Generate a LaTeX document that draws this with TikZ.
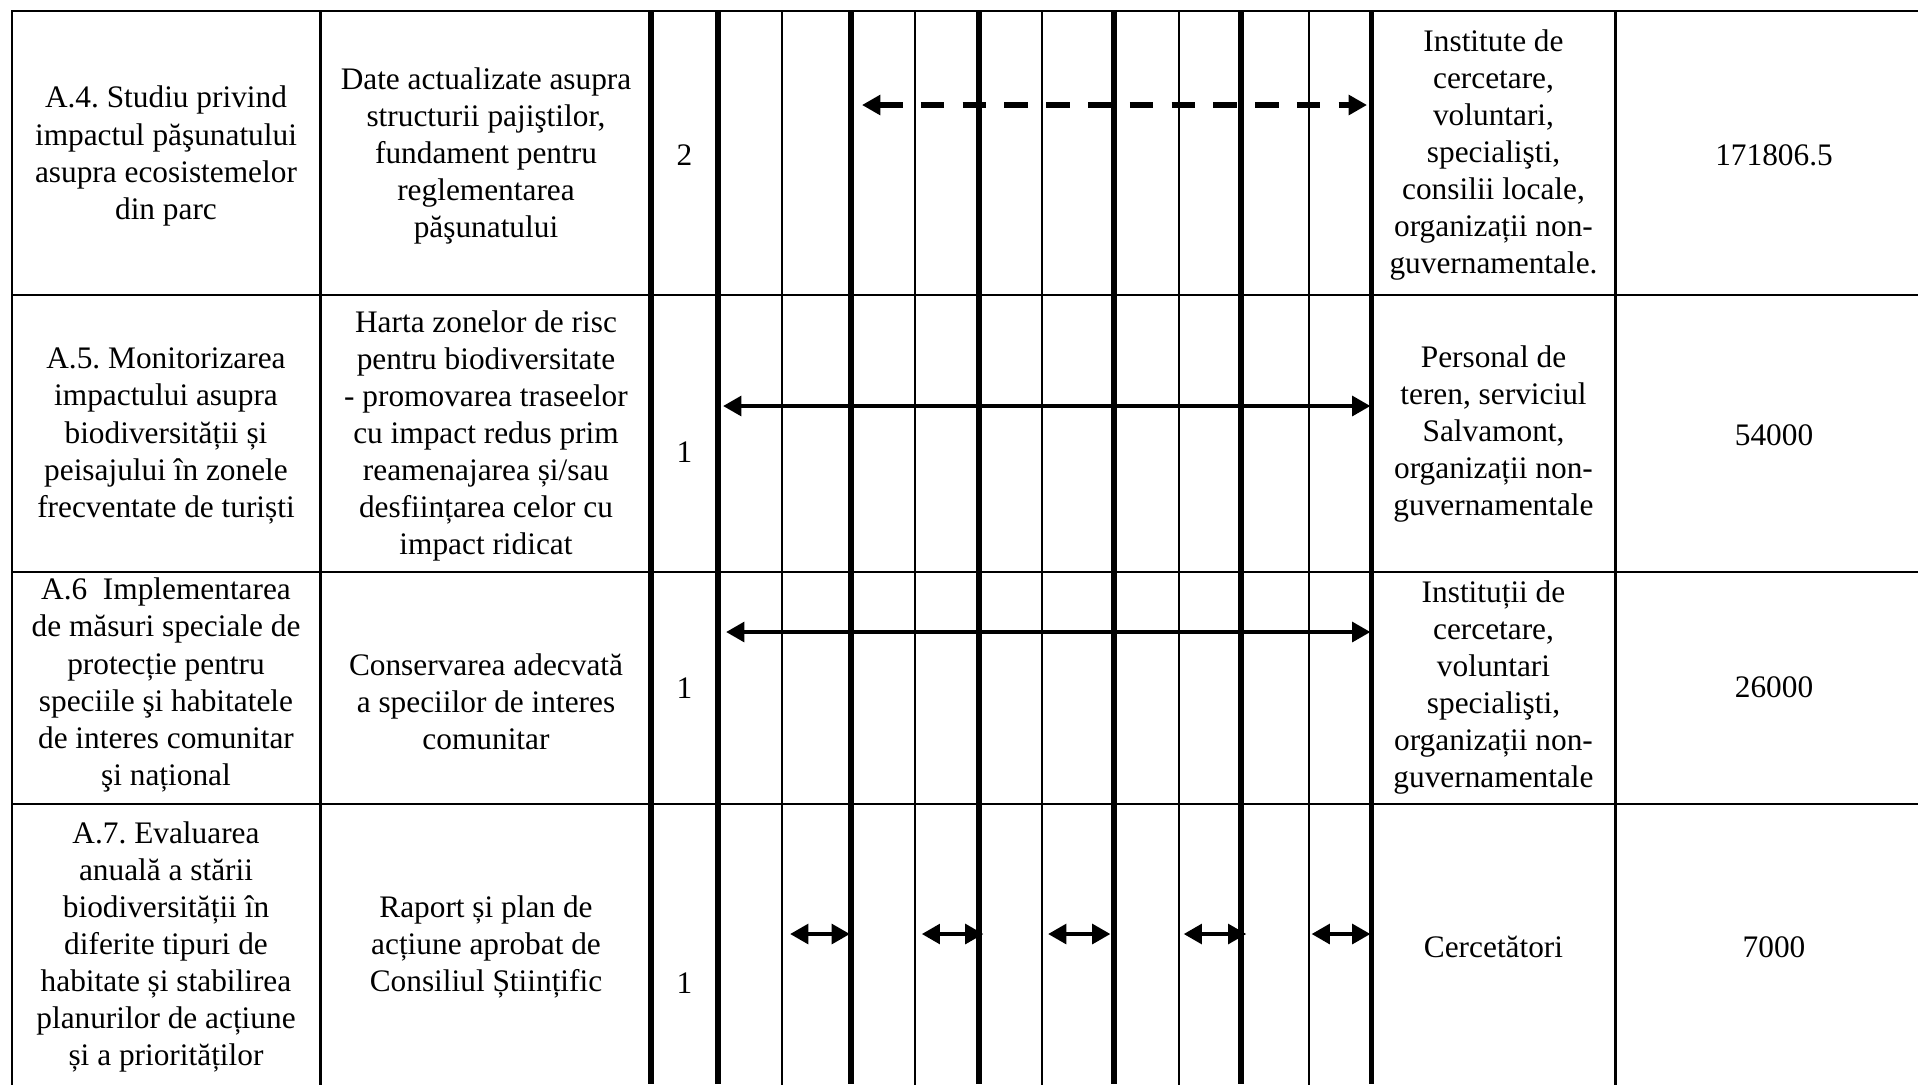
\documentclass[tikz,border=0pt]{standalone}
\usepackage{fontspec}
\setmainfont{Liberation Serif}
\usetikzlibrary{arrows.meta}
\frenchspacing

\tikzset{
  cell/.style={align=center, inner sep=0, font=\fontsize{12}{14.2}\selectfont},
  thinline/.style={line width=0.8pt, line cap=rect},
  thickline/.style={line width=2.2pt},
  span/.style={line width=1.8pt, {Triangle[length=7pt,width=7.4pt]}-{Triangle[length=7pt,width=7.4pt]}},
}

\begin{document}
\begin{tikzpicture}[x=0.383pt, y=-0.383pt]
\useasboundingbox (0,0) rectangle (1918,1084);
% grid of the table
\foreach \y in {11,295,572,804} {
 \draw[thinline] (12,\y) -- (1918,\y);
}
\foreach \x in {12,320.5,781.6,915,1041.6,1179,1308.7,1615.5} {
 \draw[thinline] (\x,11) -- (\x,1084);
}
\foreach \x in {651,718,851,979,1114,1241,1371.5} {
 \draw[thickline] (\x,11) -- (\x,1084);
}

% row A.4
\node[cell] (actA4) at (166,156) {A.4. Studiu privind\\impactul păşunatului\\asupra ecosistemelor\\din parc};
\node[cell] (resA4) at (486,156) {Date actualizate asupra\\structurii pajiştilor,\\fundament pentru\\reglementarea\\păşunatului};
\node[cell] (prA4) at (684.5,155) {2};
\node[cell] (respA4) at (1493.5,155) {Institute de\\cercetare,\\voluntari,\\specialişti,\\consilii locale,\\organizații non-\\guvernamentale.};
\node[cell] (costA4) at (1774,155) {171806.5};

% row A.5
\node[cell] (actA5) at (166,436) {A.5. Monitorizarea\\impactului asupra\\biodiversității și\\peisajului în zonele\\frecventate de turiști};
\node[cell] (resA5) at (486,436) {Harta zonelor de risc\\pentru biodiversitate\\- promovarea traseelor\\cu impact redus prim\\reamenajarea și/sau\\desființarea celor cu\\impact ridicat};
\node[cell] (prA5) at (684.5,452) {1};
\node[cell] (respA5) at (1493.5,434) {Personal de\\teren, serviciul\\Salvamont,\\organizații non-\\guvernamentale};
\node[cell] (costA5) at (1774,435) {54000};

% row A.6
\node[cell] (actA6) at (166,685) {A.6~ Implementarea\\de măsuri speciale de\\protecție pentru\\speciile şi habitatele\\de interes comunitar\\şi național};
\node[cell] (resA6) at (486,702) {Conservarea adecvată\\a speciilor de interes\\comunitar};
\node[cell] (prA6) at (684.5,688) {1};
\node[cell] (respA6) at (1493.5,687.5) {Instituții de\\cercetare,\\voluntari\\specialişti,\\organizații non-\\guvernamentale};
\node[cell] (costA6) at (1774,687.5) {26000};

% row A.7
\node[cell] (actA7) at (166,947) {A.7. Evaluarea\\anuală a stării\\biodiversității în\\diferite tipuri de\\habitate și stabilirea\\planurilor de acțiune\\și a priorităților};
\node[cell] (resA7) at (486,947) {Raport și plan de\\acțiune aprobat de\\Consiliul Științific};
\node[cell] (prA7) at (684.5,983) {1};
\node[cell] (respA7) at (1493.5,947) {Cercetători};
\node[cell] (costA7) at (1774,947) {7000};

% time spans
\coordinate (sA4) at (862,105);   \coordinate (eA4) at (1367,105);
\coordinate (sA5) at (723,406);   \coordinate (eA5) at (1370.5,406);
\coordinate (sA6) at (726,632);   \coordinate (eA6) at (1370.5,632);
\draw[span, line width=2.1pt, dash pattern=on 9pt off 7pt] (sA4) -- (eA4);
\draw[span] (sA5) -- (eA5);
\draw[span] (sA6) -- (eA6);
\foreach \a/\b [count=\i] in {790/850, 921.7/983.5, 1048/1110.5, 1183.6/1246.4, 1311.5/1370.5} {
 \coordinate (sA7\i) at (\a,934);
 \coordinate (eA7\i) at (\b,934);
 \draw[span] (sA7\i) -- (eA7\i);
}
\end{tikzpicture}
\end{document}
